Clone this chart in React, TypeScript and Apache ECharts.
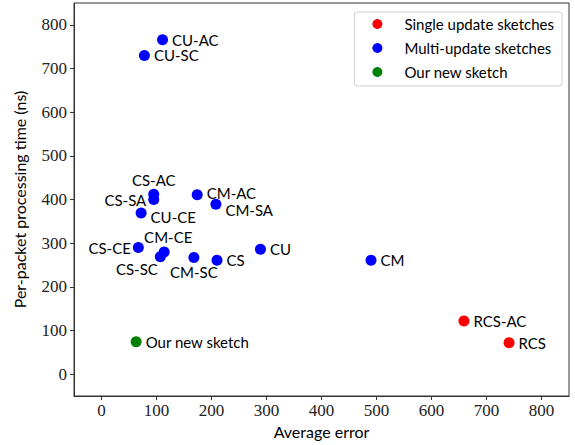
import React, { useEffect, useRef } from "react";
import * as echarts from "echarts";

const singleNames = ["RCS-AC", "RCS"];
const singleX = [659, 741];
const singleY = [122, 72];

const multiNames = ["CU-AC", "CU-SC", "CS-AC", "CS-SA", "CM-AC", "CM-SA", "CU-CE", "CS-CE", "CM-CE", "CS-SC", "CM-SC", "CS", "CU", "CM"];
const multiX = [111, 78, 95, 95, 174, 208, 72, 67, 114, 107, 168, 210, 289, 490];
const multiY = [766, 730, 412, 400, 411, 389, 369, 290, 280, 269, 267, 261, 286, 261];

const newNames = ["Our new sketch"];
const newX = [63];
const newY = [74];

const xTicks = [0, 100, 200, 300, 400, 500, 600, 700, 800];
const yTicks = [0, 100, 200, 300, 400, 500, 600, 700, 800];

const labelFont = "Lato, 'Noto Sans', sans-serif";
const tickFont = "Liberation Serif, DejaVu Serif, serif";

const labelPlacement: Record<string, any> = {
  "CS-AC": { position: "top", distance: 2 },
  "CS-SA": { position: "left", distance: 2 },
  "CM-AC": { position: "right", distance: 4, offset: [0, -2] },
  "CM-SA": { position: "right", distance: 4, offset: [0, 6] },
  "CU-CE": { position: "right", distance: 4, offset: [0, 4] },
  "CS-CE": { position: "left", distance: 2 },
  "CM-CE": { position: "top", distance: 2, offset: [4, 0] },
  "CS-SC": { position: "left", distance: 0, offset: [3, 12] },
  "CM-SC": { position: "bottom", distance: 2 },
};

function build(names: string[], xs: number[], ys: number[]) {
  return names.map((n, i) => {
    const p = labelPlacement[n];
    const item: any = { name: n, value: [xs[i], ys[i]] };
    if (p) item.label = { ...p };
    return item;
  });
}

export default function App() {
  const ref = useRef<HTMLDivElement>(null);
  useEffect(() => {
    document.body.style.margin = "0";
    if (!ref.current) return;
    const chart = echarts.init(ref.current, undefined, { renderer: "svg" });
    const seriesLabel = {
      show: true,
      formatter: (p: any) => p.name,
      position: "right",
      distance: 4,
      color: "#000",
      fontSize: 15,
      lineHeight: 14,
      fontFamily: labelFont,
    };
    chart.setOption({
      animation: false,
      backgroundColor: "#fff",
      grid: {
        left: 74,
        top: 3,
        right: 6,
        bottom: 49,
        show: true,
        borderColor: "#333",
        borderWidth: 1,
        backgroundColor: "transparent",
      },
      legend: {
        right: 13,
        top: 12,
        orient: "vertical",
        icon: "circle",
        itemWidth: 10,
        itemHeight: 10,
        itemGap: 6,
        padding: [3, 8, 5, 18],
        borderColor: "#d0d0d0",
        borderWidth: 1,
        borderRadius: 3,
        backgroundColor: "#fff",
        textStyle: {
          fontFamily: labelFont,
          fontSize: 15,
          color: "#000",
          lineHeight: 18,
          padding: [0, 0, 0, 17],
        },
        data: ["Single update sketches", "Multi-update sketches", "Our new sketch"],
      },
      xAxis: {
        type: "value",
        min: -50,
        max: 850,
        name: "Average error",
        nameLocation: "middle",
        nameGap: 27,
        nameTextStyle: { fontFamily: labelFont, fontSize: 16, color: "#000" },
        splitLine: { show: false },
        axisLine: { show: true, onZero: false, lineStyle: { color: "#333" } },
        axisTick: { show: true, length: 4, lineStyle: { color: "#333" }, customValues: xTicks },
        axisLabel: {
          customValues: xTicks,
          fontFamily: tickFont,
          fontSize: 17,
          color: "#222",
          margin: 6,
        },
      },
      yAxis: {
        type: "value",
        min: -50,
        max: 850,
        name: "Per-packet processing time (ns)",
        nameLocation: "middle",
        nameRotate: 90,
        nameGap: 47,
        nameTextStyle: { fontFamily: labelFont, fontSize: 16, color: "#000" },
        splitLine: { show: false },
        axisLine: { show: true, onZero: false, lineStyle: { color: "#333" } },
        axisTick: { show: true, length: 4, lineStyle: { color: "#333" }, customValues: yTicks },
        axisLabel: {
          customValues: yTicks,
          fontFamily: tickFont,
          fontSize: 17,
          color: "#222",
          margin: 7,
        },
      },
      series: [
        {
          name: "Single update sketches",
          type: "scatter",
          symbolSize: 11,
          itemStyle: { color: "#ff0000", opacity: 1 },
          label: seriesLabel,
          data: build(singleNames, singleX, singleY),
        },
        {
          name: "Multi-update sketches",
          type: "scatter",
          symbolSize: 11,
          itemStyle: { color: "#0000ff", opacity: 1 },
          label: seriesLabel,
          data: build(multiNames, multiX, multiY),
        },
        {
          name: "Our new sketch",
          type: "scatter",
          symbolSize: 11,
          itemStyle: { color: "#008000", opacity: 1 },
          label: seriesLabel,
          data: build(newNames, newX, newY),
        },
      ],
    });
    return () => chart.dispose();
  }, []);
  return <div ref={ref} style={{ width: 575, height: 445 }} />;
}
